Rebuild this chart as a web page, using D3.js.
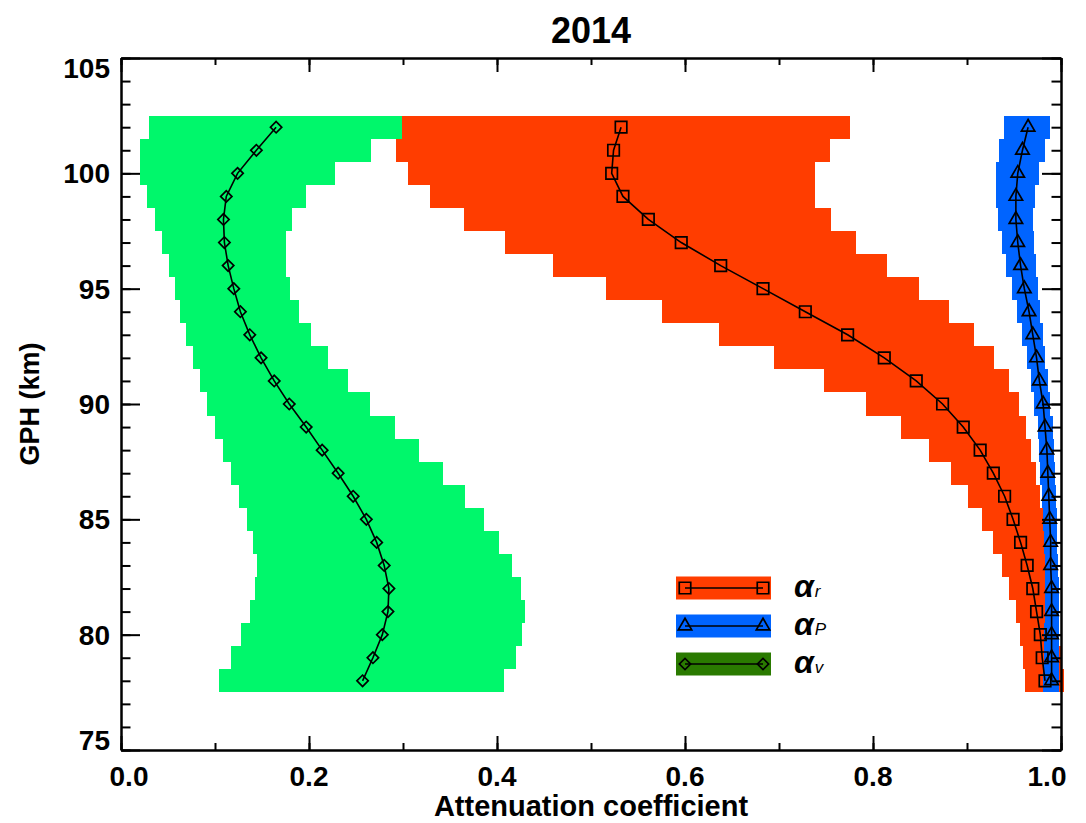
<!DOCTYPE html>
<html>
<head>
<meta charset="utf-8">
<script src="https://cdn.jsdelivr.net/npm/d3@7"></script>
<style>
  body { margin: 0; background: #fff; }
  text { font-family: "Liberation Sans", Arial, sans-serif; }
</style>
</head>
<body>
<script>
// altitude levels (km), bottom to top
var levels = [78, 79, 80, 81, 82, 83, 84, 85, 86, 87, 88, 89, 90,
              91, 92, 93, 94, 95, 96, 97, 98, 99, 100, 101, 102];

// alpha_v (green)
var vMean = [0.257, 0.268, 0.278, 0.284, 0.285, 0.280, 0.272, 0.261, 0.247, 0.231, 0.214, 0.197, 0.179,
             0.163, 0.149, 0.137, 0.127, 0.120, 0.114, 0.110, 0.109, 0.112, 0.124, 0.144, 0.165];
var vLow  = [0.104, 0.117, 0.128, 0.137, 0.143, 0.145, 0.140, 0.134, 0.126, 0.117, 0.109, 0.100, 0.092,
             0.084, 0.077, 0.069, 0.063, 0.057, 0.051, 0.044, 0.036, 0.028, 0.020, 0.020, 0.030];
var vHigh = [0.407, 0.420, 0.427, 0.430, 0.426, 0.416, 0.402, 0.386, 0.366, 0.343, 0.317, 0.292, 0.265,
             0.242, 0.220, 0.202, 0.189, 0.180, 0.176, 0.175, 0.182, 0.197, 0.228, 0.266, 0.310];

// alpha_r (red)
var rMean = [0.983, 0.980, 0.978, 0.974, 0.970, 0.964, 0.957, 0.949, 0.940, 0.928, 0.914, 0.896, 0.874,
             0.846, 0.812, 0.773, 0.728, 0.683, 0.638, 0.596, 0.561, 0.534, 0.522, 0.524, 0.532];
var rLow  = [0.962, 0.960, 0.956, 0.952, 0.945, 0.937, 0.928, 0.916, 0.901, 0.883, 0.860, 0.830, 0.793,
             0.748, 0.695, 0.636, 0.576, 0.516, 0.460, 0.408, 0.365, 0.329, 0.305, 0.293, 0.299];
var rHigh = [1.003, 1.001, 0.993, 0.992, 0.990, 0.988, 0.985, 0.981, 0.978, 0.973, 0.968, 0.963, 0.955,
             0.945, 0.929, 0.907, 0.881, 0.849, 0.815, 0.782, 0.755, 0.738, 0.738, 0.754, 0.775];

// alpha_p (blue)
var pMean = [0.990, 0.990, 0.990, 0.990, 0.990, 0.989, 0.989, 0.988, 0.987, 0.986, 0.985, 0.983, 0.981,
             0.977, 0.974, 0.970, 0.966, 0.961, 0.957, 0.954, 0.952, 0.952, 0.954, 0.959, 0.965];
var pLow  = [0.981, 0.982, 0.982, 0.983, 0.983, 0.983, 0.982, 0.981, 0.980, 0.978, 0.977, 0.975, 0.971,
             0.968, 0.964, 0.959, 0.953, 0.948, 0.942, 0.937, 0.933, 0.931, 0.931, 0.934, 0.939];
var pHigh = [0.998, 0.998, 0.998, 0.998, 0.998, 0.997, 0.996, 0.996, 0.995, 0.994, 0.993, 0.992, 0.988,
             0.986, 0.983, 0.981, 0.978, 0.976, 0.973, 0.971, 0.970, 0.972, 0.977, 0.983, 0.988];

var xTicks = [0.0, 0.2, 0.4, 0.6, 0.8, 1.0];
var yTicks = [75, 80, 85, 90, 95, 100, 105];

var margin = {top: 58, right: 25, bottom: 73, left: 121}
  , width = 1086 - margin.left - margin.right
  , height = 823 - margin.top - margin.bottom;

var xScale = d3.scaleLinear().domain([0, 1]).range([0, width]);
var yScale = d3.scaleLinear().domain([75, 105]).range([height, 0]);

var series = [
  {name: "v", mean: vMean, low: vLow, high: vHigh, band: "#00f76b", legend: "#2a7a00", sym: "diamond"},
  {name: "r", mean: rMean, low: rLow, high: rHigh, band: "#ff3d00", legend: "#ff3d00", sym: "square"},
  {name: "P", mean: pMean, low: pLow, high: pHigh, band: "#0064ff", legend: "#0064ff", sym: "triangle"}
];

function symbolPath(kind) {
  if (kind == "square") return d3.symbol(d3.symbolSquare, 132)();
  if (kind == "triangle") return d3.symbol(d3.symbolTriangle, 78)();
  return d3.symbol(d3.symbolSquare, 64)();
}
function symbolRotate(kind) { return kind == "diamond" ? " rotate(45)" : ""; }

var svg = d3.select("body").append("svg")
    .attr("width", 1086)
    .attr("height", 823);

var g = svg.append("g")
    .attr("transform", "translate(" + margin.left + "," + margin.top + ")");

// bands
series.forEach(function(s) {
  g.append("g").selectAll("rect")
    .data(levels)
    .enter().append("rect")
    .attr("shape-rendering", "crispEdges")
    .attr("fill", s.band)
    .attr("x", function(d, i) { return xScale(s.low[i]); })
    .attr("width", function(d, i) { return xScale(s.high[i]) - xScale(s.low[i]); })
    .attr("y", function(d) { return yScale(d + 0.5); })
    .attr("height", function(d) { return yScale(d - 0.5) - yScale(d + 0.5); });
});

// lines + markers
var line = d3.line()
    .x(function(d) { return xScale(d[0]); })
    .y(function(d) { return yScale(d[1]); });

series.forEach(function(s) {
  var pts = levels.map(function(h, i) { return [s.mean[i], h]; });
  g.append("path")
    .attr("fill", "none")
    .attr("stroke", "#000")
    .attr("stroke-width", 1.6)
    .attr("d", line(pts));
  g.append("g").selectAll("path")
    .data(pts)
    .enter().append("path")
    .attr("d", symbolPath(s.sym))
    .attr("transform", function(d) { return "translate(" + xScale(d[0]) + "," + yScale(d[1]) + ")" + symbolRotate(s.sym); })
    .attr("fill", "none")
    .attr("stroke", "#000")
    .attr("stroke-width", 1.7);
});

// axes
function styleAxis(sel) {
  sel.selectAll("path, line").attr("stroke", "#000").attr("stroke-width", 2);
  sel.selectAll("text").remove();
}

var xMinor = d3.range(0, 1.01, 0.1);
var yMinor = d3.range(75, 105.5, 1);

g.append("g").attr("transform", "translate(0," + height + ")")
  .call(d3.axisBottom(xScale).tickValues(xMinor).tickSize(-7).tickSizeOuter(0)).call(styleAxis);
g.append("g").attr("transform", "translate(0," + height + ")")
  .call(d3.axisBottom(xScale).tickValues(xTicks).tickSize(-14).tickSizeOuter(0)).call(styleAxis);
g.append("g")
  .call(d3.axisTop(xScale).tickValues(xMinor).tickSize(-7).tickSizeOuter(0)).call(styleAxis);
g.append("g")
  .call(d3.axisTop(xScale).tickValues(xTicks).tickSize(-14).tickSizeOuter(0)).call(styleAxis);
g.append("g")
  .call(d3.axisLeft(yScale).tickValues(yMinor).tickSize(-9.5).tickSizeOuter(0)).call(styleAxis);
g.append("g")
  .call(d3.axisLeft(yScale).tickValues(yTicks).tickSize(-19).tickSizeOuter(0)).call(styleAxis);
g.append("g").attr("transform", "translate(" + width + ",0)")
  .call(d3.axisRight(yScale).tickValues(yMinor).tickSize(-9.5).tickSizeOuter(0)).call(styleAxis);
g.append("g").attr("transform", "translate(" + width + ",0)")
  .call(d3.axisRight(yScale).tickValues(yTicks).tickSize(-19).tickSizeOuter(0)).call(styleAxis);

// tick labels
g.append("g").selectAll("text")
  .data(xTicks)
  .enter().append("text")
  .attr("x", function(d, i) { return xScale(d) + (i == 0 ? 8 : (i == xTicks.length - 1 ? -14 : 0)); })
  .attr("y", height + 36)
  .attr("text-anchor", "middle")
  .style("font-size", "28px")
  .style("font-weight", "bold")
  .text(function(d) { return d3.format(".1f")(d); });

g.append("g").selectAll("text")
  .data(yTicks)
  .enter().append("text")
  .attr("x", -11)
  .attr("y", function(d, i) { return yScale(d) + (i == 0 ? 0 : (i == yTicks.length - 1 ? 20 : 10)); })
  .attr("text-anchor", "end")
  .style("font-size", "28px")
  .style("font-weight", "bold")
  .text(function(d) { return d; });

// titles
svg.append("text")
  .attr("x", margin.left + width / 2)
  .attr("y", 43)
  .attr("text-anchor", "middle")
  .style("font-size", "36px")
  .style("font-weight", "bold")
  .text("2014");

svg.append("text")
  .attr("x", margin.left + width / 2)
  .attr("y", 816)
  .attr("text-anchor", "middle")
  .style("font-size", "29px")
  .style("font-weight", "bold")
  .text("Attenuation coefficient");

svg.append("text")
  .attr("transform", "translate(39," + (margin.top + height / 2) + ") rotate(-90)")
  .attr("text-anchor", "middle")
  .style("font-size", "27px")
  .style("font-weight", "bold")
  .text("GPH (km)");

// legend
var legendOrder = [series[1], series[2], series[0]];
var leg = svg.append("g");
legendOrder.forEach(function(s, i) {
  var cy = 588 + i * 38;
  leg.append("rect")
    .attr("x", 676).attr("y", cy - 11.5)
    .attr("width", 95).attr("height", 23)
    .attr("fill", s.legend);
  leg.append("line")
    .attr("x1", 685).attr("x2", 763)
    .attr("y1", cy).attr("y2", cy)
    .attr("stroke", "#000").attr("stroke-width", 1.6);
  [685, 763].forEach(function(mx) {
    leg.append("path")
      .attr("d", symbolPath(s.sym))
      .attr("transform", "translate(" + mx + "," + cy + ")" + symbolRotate(s.sym))
      .attr("fill", "none").attr("stroke", "#000").attr("stroke-width", 1.7);
  });
  var t = leg.append("text")
    .attr("x", 794).attr("y", cy + 9);
  t.append("tspan")
    .style("font-size", "32px").style("font-weight", "bold").style("font-style", "italic")
    .text("\u03b1");
  t.append("tspan")
    .attr("dx", 1)
    .style("font-size", "17px").style("font-style", "italic")
    .text(s.name);
});
</script>
</body>
</html>
